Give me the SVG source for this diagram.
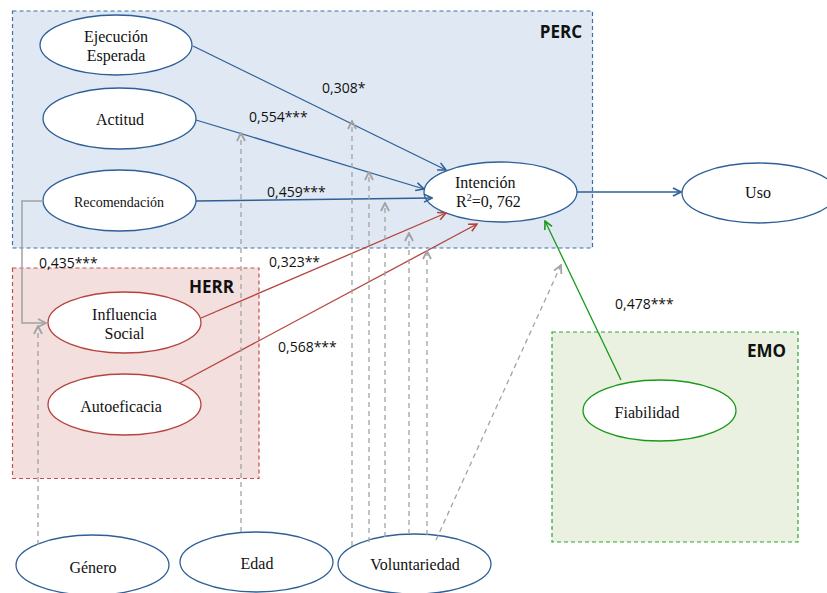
<svg xmlns="http://www.w3.org/2000/svg" width="827" height="593" viewBox="0 0 827 593">
<style>
.node{fill:#ffffff;stroke-width:1.3}
.nb{stroke:#2f5f97}
.nr{stroke:#b5443f}
.ng{stroke:#1a9a1a}
.nt{font-family:"Liberation Serif","Times New Roman",serif;font-size:16px;fill:#111;text-anchor:middle}
.lbl{font-family:"Open Sans","Liberation Sans",Arial,sans-serif;font-size:14px;fill:#111}
.hdr{font-family:"Open Sans","Liberation Sans",Arial,sans-serif;font-size:17px;font-weight:700;fill:#111;text-anchor:end}
.box{stroke-width:1.2;stroke-dasharray:4,3}
.eb{fill:none;stroke:#2f5f97;stroke-width:1.3}
.er{fill:none;stroke:#b5443f;stroke-width:1.3}
.eg{fill:none;stroke:#1a9a1a;stroke-width:1.3}
.ed{fill:none;stroke:#a3a3a3;stroke-width:1.3;stroke-dasharray:5,4}
.es{fill:none;stroke:#a3a3a3;stroke-width:1.5}
</style>
<defs>
<marker id="mb" viewBox="0 0 10 10" refX="9" refY="5" markerWidth="10" markerHeight="10" markerUnits="userSpaceOnUse" orient="auto"><path d="M1,1 L9,5 L1,9" fill="none" stroke="#2f5f97" stroke-width="1.6"/></marker>
<marker id="mr" viewBox="0 0 10 10" refX="9" refY="5" markerWidth="10" markerHeight="10" markerUnits="userSpaceOnUse" orient="auto"><path d="M1,1 L9,5 L1,9" fill="none" stroke="#b5443f" stroke-width="1.6"/></marker>
<marker id="mg" viewBox="0 0 10 10" refX="9" refY="5" markerWidth="10" markerHeight="10" markerUnits="userSpaceOnUse" orient="auto"><path d="M1,1 L9,5 L1,9" fill="none" stroke="#1a9a1a" stroke-width="1.6"/></marker>
<marker id="md" viewBox="0 0 10 10" refX="9" refY="5" markerWidth="10" markerHeight="10" markerUnits="userSpaceOnUse" orient="auto"><path d="M1,1 L9,5 L1,9" fill="none" stroke="#a3a3a3" stroke-width="1.8"/></marker>
</defs>
<rect width="827" height="593" fill="#ffffff"/>
<g id="groups">
<g id="perc"><rect class="box" x="12.5" y="11" width="580" height="237" fill="#dfe8f3" stroke="#3d6fa8"/><text class="hdr" x="582" y="38">PERC</text></g>
<g id="herr"><rect class="box" x="12.5" y="268" width="246.5" height="210.5" fill="#f3dfde" stroke="#c0504d"/><text class="hdr" x="234" y="293">HERR</text></g>
<g id="emo"><rect class="box" x="552" y="332" width="246" height="210" fill="#ebf1e0" stroke="#2fa32f"/><text class="hdr" x="786" y="357">EMO</text></g>
</g>
<g id="ejecucion"><ellipse class="node nb" cx="116" cy="45" rx="76" ry="30"/><text class="nt" x="116" y="42">Ejecución</text><text class="nt" x="116" y="61">Esperada</text></g>
<g id="actitud"><ellipse class="node nb" cx="119.5" cy="118.5" rx="76.5" ry="30.5"/><text class="nt" x="120" y="125">Actitud</text></g>
<g id="recomendacion"><ellipse class="node nb" cx="119.5" cy="200.5" rx="76.5" ry="30.5"/><text class="nt" x="119" y="207" style="font-size:14px">Recomendación</text></g>
<g id="intencion"><ellipse class="node nb" cx="500.5" cy="192" rx="76.5" ry="30"/><text class="nt" x="455" y="188" style="text-anchor:start">Intención</text><text class="nt" x="456" y="207" style="text-anchor:start">R<tspan font-size="10" dy="-6">2</tspan><tspan dy="6">=0, 762</tspan></text></g>
<g id="uso"><ellipse class="node nb" cx="759" cy="193" rx="77" ry="30"/><text class="nt" x="758" y="198">Uso</text></g>
<g id="influencia"><ellipse class="node nr" cx="124.5" cy="322.5" rx="76.5" ry="30.5"/><text class="nt" x="124.5" y="320">Influencia</text><text class="nt" x="124.5" y="339">Social</text></g>
<g id="autoeficacia"><ellipse class="node nr" cx="124.5" cy="404.5" rx="76.5" ry="30.5"/><text class="nt" x="121" y="412">Autoeficacia</text></g>
<g id="fiabilidad"><ellipse class="node ng" cx="659.5" cy="410.5" rx="76.5" ry="30.5"/><text class="nt" x="647" y="418">Fiabilidad</text></g>
<g id="genero"><ellipse class="node nb" cx="92.5" cy="565" rx="76.5" ry="30"/><text class="nt" x="93" y="573">Género</text></g>
<g id="edad"><ellipse class="node nb" cx="256.5" cy="562" rx="76.5" ry="30"/><text class="nt" x="257" y="569">Edad</text></g>
<g id="voluntariedad"><ellipse class="node nb" cx="414.5" cy="564" rx="76.5" ry="30"/><text class="nt" x="415" y="570">Voluntariedad</text></g>
<g id="connectors">
<path class="eb" d="M193,46 L446,170" marker-end="url(#mb)"/>
<path class="eb" d="M196,120 L424,189" marker-end="url(#mb)"/>
<path class="eb" d="M196,201 L432,198" marker-end="url(#mb)"/>
<path class="eb" d="M577,192 L681,192" marker-end="url(#mb)"/>
<path class="er" d="M201,318 L446,213" marker-end="url(#mr)"/>
<path class="er" d="M180,383 L477,224" marker-end="url(#mr)"/>
<path class="eg" d="M621,380 L545,221" marker-end="url(#mg)"/>
<path class="es" d="M43,201 L22,201 L22,323 L46,323" marker-end="url(#md)"/>
<path class="ed" d="M38,545 L38,326" marker-end="url(#md)"/>
<path class="ed" d="M241,532 L241,133" marker-end="url(#md)"/>
<path class="ed" d="M352,546 L352,121" marker-end="url(#md)"/>
<path class="ed" d="M369,542 L369,172" marker-end="url(#md)"/>
<path class="ed" d="M385,537 L385,203" marker-end="url(#md)"/>
<path class="ed" d="M409,534 L409,233" marker-end="url(#md)"/>
<path class="ed" d="M427,535 L427,251" marker-end="url(#md)"/>
<path class="ed" d="M436,540 L561,265" marker-end="url(#md)"/>
</g>
<g id="edge-labels">
<text class="lbl" x="322" y="93">0,308*</text>
<text class="lbl" x="249" y="122">0,554***</text>
<text class="lbl" x="267" y="197">0,459***</text>
<text class="lbl" x="39" y="268">0,435***</text>
<text class="lbl" x="269" y="267">0,323**</text>
<text class="lbl" x="278" y="352">0,568***</text>
<text class="lbl" x="615" y="309">0,478***</text>
</g>
</svg>
